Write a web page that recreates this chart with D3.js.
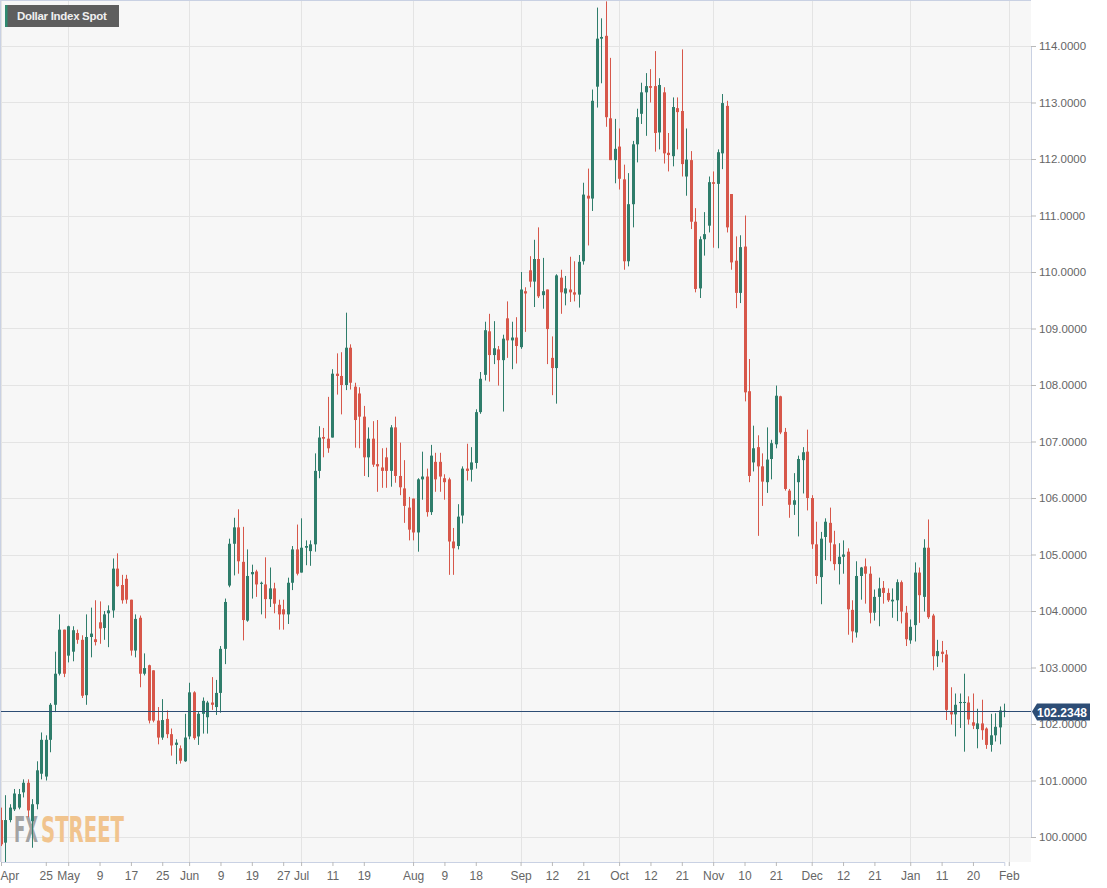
<!DOCTYPE html>
<html>
<head>
<meta charset="utf-8">
<script src="https://cdnjs.cloudflare.com/ajax/libs/d3/7.8.5/d3.min.js"></script>
<style>
body { margin: 0; background: #ffffff; }
svg { display: block; font-family: "Liberation Sans", Arial, sans-serif; }
</style>
</head>
<body>
<script>
// daily candles, Apr 2022 -> end of Jan 2023
var opens = [
 100.30, 99.90, 100.30, 100.49, 100.52, 100.79, 100.96, 100.28, 100.58, 101.12,
 101.07, 101.72, 102.34, 102.89, 103.67, 103.21, 103.28, 103.61, 103.49, 102.51,
 103.54, 103.50, 103.80, 103.70, 103.96, 104.01, 104.75, 104.46, 104.57, 104.20,
 103.30, 103.88, 102.89, 103.04, 102.95, 102.06, 101.76, 102.09, 101.82, 101.63,
 101.57, 101.34, 101.78, 102.56, 101.78, 102.18, 102.12, 102.38, 102.30, 102.55,
 103.33, 104.45, 105.19, 105.48, 104.87, 103.83, 104.65, 104.70, 104.48, 104.47,
 104.21, 104.40, 104.11, 104.03, 103.94, 104.50, 105.09, 104.68, 105.12, 105.06,
 105.18, 106.48, 107.08, 107.05, 107.07, 108.20, 108.16, 108.00, 108.66, 107.97,
 107.85, 107.44, 106.72, 107.05, 106.60, 106.54, 106.72, 106.48, 107.25, 106.39,
 106.17, 105.83, 105.99, 105.39, 106.33, 106.38, 105.75, 106.64, 106.64, 106.35,
 106.33, 105.23, 105.15, 105.69, 106.52, 106.50, 106.62, 107.52, 108.18, 108.95,
 108.53, 108.63, 108.44, 109.18, 108.79, 108.84, 108.67, 109.66, 110.03, 109.83,
 110.23, 109.59, 109.69, 108.48, 108.30, 109.90, 109.62, 109.69, 109.64, 109.60,
 110.19, 111.35, 111.30, 113.28, 114.13, 114.18, 112.72, 111.98, 112.22, 111.64,
 110.19, 111.20, 112.26, 112.80, 113.18, 113.29, 113.29, 112.47, 113.18, 112.11,
 112.05, 112.90, 112.85, 111.69, 111.98, 110.89, 109.71, 110.58, 110.82, 111.59,
 111.56, 112.10, 112.94, 111.38, 110.20, 109.63, 110.45, 107.89, 106.63, 106.90,
 106.56, 106.28, 106.69, 106.95, 107.80, 107.17, 106.13, 105.88, 106.28, 106.67,
 106.82, 106.00, 105.18, 104.60, 105.31, 105.56, 105.18, 104.83, 104.96, 105.05,
 104.02, 103.62, 104.62, 104.79, 104.66, 103.97, 104.25, 104.41, 104.32, 104.17,
 104.19, 104.51, 103.97, 103.48, 103.75, 104.68, 104.25, 105.12, 103.92, 103.20,
 103.28, 103.23, 102.21, 102.17, 102.37, 102.38, 102.38, 102.03, 101.91, 102.01,
 101.92, 101.63, 101.80, 101.94, 102.22
];
var highs = [
 100.52, 100.74, 100.58, 100.85, 100.85, 101.02, 101.02, 100.67, 101.34, 101.85,
 101.80, 102.37, 103.28, 103.94, 103.67, 103.74, 103.73, 103.67, 103.57, 103.94,
 104.06, 104.19, 104.17, 104.00, 104.10, 104.93, 105.02, 104.64, 104.64, 104.20,
 103.94, 103.92, 103.25, 103.05, 102.95, 102.30, 102.44, 102.24, 101.92, 101.73,
 101.62, 102.18, 102.73, 102.58, 102.21, 102.47, 102.41, 102.83, 102.78, 103.38,
 104.22, 105.28, 105.65, 105.80, 105.49, 105.09, 104.82, 104.73, 104.52, 104.95,
 104.77, 104.50, 104.20, 104.20, 104.59, 105.15, 105.53, 105.64, 105.25, 105.25,
 106.79, 107.27, 107.24, 107.79, 108.28, 108.56, 108.58, 109.28, 108.72, 108.04,
 107.96, 107.63, 107.25, 107.36, 107.38, 106.88, 106.89, 107.29, 107.44, 106.98,
 106.67, 106.02, 105.99, 106.35, 106.82, 106.52, 106.94, 106.80, 106.80, 106.42,
 106.36, 105.47, 105.89, 106.56, 106.96, 106.90, 107.57, 108.23, 109.12, 109.26,
 109.13, 108.69, 108.89, 109.48, 109.12, 109.20, 110.00, 109.73, 110.28, 110.57,
 110.79, 110.25, 109.69, 108.86, 109.96, 110.04, 109.93, 110.27, 110.19, 110.30,
 111.58, 111.83, 113.23, 114.68, 114.49, 114.79, 113.79, 112.71, 112.54, 111.90,
 111.75, 112.32, 112.89, 113.35, 113.52, 113.59, 113.91, 113.43, 113.27, 112.46,
 113.09, 113.09, 113.94, 112.54, 112.14, 111.13, 110.63, 111.06, 111.69, 111.78,
 112.17, 113.15, 113.03, 111.38, 110.63, 110.65, 111.00, 108.46, 107.28, 107.11,
 106.79, 107.25, 107.03, 107.99, 107.81, 107.24, 106.16, 106.44, 106.75, 106.90,
 107.21, 106.05, 105.58, 105.40, 105.64, 105.83, 105.42, 105.20, 105.25, 105.11,
 104.19, 104.88, 104.78, 104.93, 104.79, 104.38, 104.59, 104.53, 104.40, 104.40,
 104.56, 104.54, 104.09, 103.85, 104.86, 104.77, 105.27, 105.62, 103.95, 103.49,
 103.47, 103.31, 102.65, 102.54, 102.54, 102.89, 102.49, 102.54, 102.27, 102.43,
 101.94, 102.18, 102.19, 102.31, 102.36
];
var lows = [
 99.84, 99.54, 100.26, 100.46, 100.49, 100.70, 100.35, 99.81, 100.49, 101.02,
 101.00, 101.50, 102.21, 102.86, 102.83, 103.09, 103.11, 103.42, 102.46, 102.34,
 103.18, 103.39, 103.42, 103.49, 103.36, 103.88, 104.43, 104.13, 104.13, 103.21,
 103.18, 102.65, 102.86, 102.01, 102.03, 101.64, 101.72, 101.75, 101.44, 101.29,
 101.30, 101.33, 101.73, 101.72, 101.63, 101.83, 101.83, 102.25, 102.16, 102.20,
 103.06, 104.42, 104.63, 104.66, 103.48, 103.81, 104.22, 104.25, 103.94, 103.87,
 104.07, 103.96, 103.67, 103.67, 103.77, 104.37, 104.63, 104.68, 104.81, 104.80,
 105.05, 106.35, 106.72, 106.80, 107.07, 107.83, 107.48, 107.91, 107.92, 106.89,
 106.88, 106.39, 106.37, 106.55, 106.11, 106.18, 106.18, 106.20, 106.27, 106.05,
 105.56, 105.25, 105.25, 105.05, 105.97, 105.67, 105.70, 106.11, 106.11, 105.97,
 104.64, 104.64, 105.09, 105.55, 106.31, 106.29, 106.52, 107.49, 108.08, 108.06,
 108.37, 107.99, 107.53, 108.48, 108.28, 108.38, 108.64, 108.94, 109.73, 109.38,
 109.54, 109.35, 108.37, 107.82, 107.67, 109.26, 109.41, 109.47, 109.48, 109.37,
 110.13, 110.47, 111.08, 112.91, 113.34, 112.57, 111.98, 111.57, 111.46, 110.04,
 110.10, 110.79, 111.94, 112.62, 112.41, 113.00, 112.13, 112.17, 111.92, 111.78,
 111.87, 112.17, 111.69, 111.35, 110.76, 109.64, 109.54, 110.29, 110.70, 110.43,
 110.42, 111.82, 110.70, 110.04, 109.36, 109.45, 107.71, 106.28, 106.47, 105.33,
 105.86, 106.09, 106.33, 106.88, 107.13, 106.13, 105.65, 105.70, 105.32, 106.08,
 105.78, 105.10, 104.48, 104.12, 104.90, 104.88, 104.72, 104.47, 104.66, 103.58,
 103.44, 103.53, 104.20, 104.13, 103.78, 103.83, 103.73, 104.13, 104.16, 103.88,
 103.82, 103.78, 103.38, 103.42, 103.46, 103.79, 103.99, 103.86, 102.95, 103.01,
 103.09, 102.07, 101.99, 101.78, 101.93, 101.51, 101.99, 101.91, 101.57, 101.72,
 101.56, 101.51, 101.69, 101.64, 102.12
];
var closes = [
 99.87, 100.30, 100.52, 100.77, 100.76, 100.96, 100.47, 100.58, 101.18, 101.72,
 101.72, 102.34, 102.89, 103.67, 102.89, 103.73, 103.66, 103.49, 102.50, 103.54,
 103.60, 103.45, 103.69, 103.94, 104.01, 104.75, 104.44, 104.19, 104.20, 103.30,
 103.86, 102.89, 102.99, 102.06, 102.06, 101.76, 102.07, 101.82, 101.62, 101.67,
 101.35, 101.76, 102.56, 101.75, 102.18, 102.41, 102.38, 102.34, 102.55, 103.33,
 104.16, 105.19, 105.48, 104.88, 103.84, 104.62, 104.69, 104.47, 104.50, 104.21,
 104.40, 104.13, 103.94, 103.94, 104.50, 105.09, 104.66, 105.12, 105.15, 105.18,
 106.48, 107.07, 107.05, 106.88, 108.20, 108.16, 108.00, 108.66, 108.04, 107.38,
 107.44, 106.72, 107.05, 106.59, 106.56, 106.48, 106.48, 107.25, 106.39, 106.19,
 105.86, 105.44, 105.39, 106.33, 106.38, 105.75, 106.75, 106.33, 106.38, 106.28,
 105.23, 105.11, 105.67, 106.52, 106.48, 106.63, 107.52, 108.11, 108.97, 108.53,
 108.65, 108.44, 108.82, 108.79, 108.84, 108.69, 109.69, 109.62, 109.83, 110.23,
 109.57, 109.66, 108.99, 108.30, 109.94, 109.64, 109.71, 109.64, 109.60, 110.18,
 111.37, 111.30, 113.03, 114.13, 114.16, 112.74, 111.98, 112.18, 111.65, 110.19,
 111.20, 112.26, 112.74, 113.18, 113.29, 113.26, 112.46, 113.31, 112.10, 112.07,
 112.92, 112.83, 111.91, 111.99, 110.89, 109.70, 110.58, 110.67, 111.59, 111.56,
 112.12, 112.99, 110.79, 110.17, 109.63, 110.44, 107.87, 106.39, 106.88, 106.56,
 106.29, 106.68, 106.97, 107.81, 107.16, 106.16, 105.88, 105.96, 106.69, 106.81,
 106.00, 105.18, 104.62, 105.28, 105.58, 105.21, 104.83, 104.96, 105.00, 104.03,
 103.64, 104.62, 104.77, 104.66, 103.97, 104.25, 104.40, 104.32, 104.19, 104.20,
 104.51, 103.99, 103.50, 103.72, 104.68, 104.28, 105.12, 103.89, 103.20, 103.29,
 103.24, 102.25, 102.17, 102.34, 102.39, 102.39, 102.08, 101.97, 102.01, 101.89,
 101.63, 101.80, 101.95, 102.24, 102.2348
];

// x axis: candle index of each tick and its label
var tickIdx = [0, 10, 15, 22, 29, 36, 42, 49, 56, 63, 67, 74, 81, 92, 99, 106, 116, 123, 130,
  138, 145, 152, 159, 166, 173, 181, 188, 195, 203, 210, 217, 225];
var tickLabels = ["Apr", "25", "May", "9", "17", "25", "Jun", "9", "19", "27", "Jul", "11", "19",
  "Aug", "9", "18", "Sep", "12", "21", "Oct", "12", "21", "Nov", "10", "21", "Dec", "12", "21",
  "Jan", "11", "20", "Feb"];
var monthIdx = [0, 15, 42, 67, 92, 116, 138, 159, 181, 203, 225];
var priceTicks = [100, 101, 102, 103, 104, 105, 106, 107, 108, 109, 110, 111, 112, 113, 114];
var lastPrice = 102.2348;

var w = 1107;
var h = 888;
var plotR = 1031;
var plotB = 862;
var upCol = "#2f7d6b";
var downCol = "#d7574a";

var svg = d3.select("body")
	.append("svg")
	.attr("width", w)
	.attr("height", h);

var x = d3.scaleLinear().domain([0, opens.length - 1]).range([1, 1004.3]);
var y = d3.scaleLinear().domain([100, 114]).range([837, 46]);

// plot background
svg.append("rect")
	.attr("x", 0).attr("y", 0)
	.attr("width", plotR).attr("height", plotB)
	.attr("fill", "#f7f7f7");

// grid
svg.selectAll(".hgrid")
	.data(priceTicks)
	.enter()
	.append("line")
	.attr("x1", 0).attr("x2", plotR)
	.attr("y1", function(d){ return Math.round(y(d)) + 0.5; })
	.attr("y2", function(d){ return Math.round(y(d)) + 0.5; })
	.attr("stroke", "#e4e4e4");

svg.selectAll(".vgrid")
	.data(monthIdx)
	.enter()
	.append("line")
	.attr("y1", 0).attr("y2", plotB)
	.attr("x1", function(d){ return Math.round(x(d)) + 0.5; })
	.attr("x2", function(d){ return Math.round(x(d)) + 0.5; })
	.attr("stroke", "#e4e4e4");

// watermark
function wmText(str, x0, len, fill){
	svg.append("text")
		.attr("x", x0).attr("y", 842)
		.attr("font-family", "'Liberation Sans Narrow', 'DejaVu Sans Condensed', sans-serif")
		.attr("font-weight", "bold")
		.attr("font-size", 36)
		.attr("textLength", len)
		.attr("lengthAdjust", "spacingAndGlyphs")
		.attr("fill", fill)
		.text(str);
}
wmText("FX", 14, 24, "#a3a3a3");
wmText("STREET", 41, 83, "#f1c48e");

// candles
var idx = d3.range(opens.length);
function col(i){ return closes[i] >= opens[i] ? upCol : downCol; }

svg.selectAll(".wick")
	.data(idx)
	.enter()
	.append("line")
	.attr("x1", function(i){ return Math.round(x(i)) + 0.5; })
	.attr("x2", function(i){ return Math.round(x(i)) + 0.5; })
	.attr("y1", function(i){ return y(highs[i]); })
	.attr("y2", function(i){ return y(lows[i]); })
	.attr("stroke", col)
	.attr("stroke-width", 1);

svg.selectAll(".body")
	.data(idx)
	.enter()
	.append("rect")
	.attr("x", function(i){ return Math.round(x(i)) - 1; })
	.attr("width", 3)
	.attr("y", function(i){ return y(Math.max(opens[i], closes[i])); })
	.attr("height", function(i){ return Math.max(1, Math.abs(y(opens[i]) - y(closes[i]))); })
	.attr("fill", col);

// last price line
svg.append("line")
	.attr("x1", 0).attr("x2", plotR)
	.attr("y1", Math.round(y(lastPrice)) + 0.5)
	.attr("y2", Math.round(y(lastPrice)) + 0.5)
	.attr("stroke", "#2d4d75")
	.attr("stroke-width", 1);

// axes
var yAxis = d3.axisRight(y)
	.tickValues(priceTicks)
	.tickSize(5)
	.tickPadding(3)
	.tickFormat(d3.format(".4f"));
var gy = svg.append("g")
	.attr("transform", "translate(" + plotR + ",0)")
	.call(yAxis);

var xAxis = d3.axisBottom(x)
	.tickValues(tickIdx)
	.tickSize(4)
	.tickPadding(5)
	.tickFormat(function(d, i){ return tickLabels[i]; });
var gx = svg.append("g")
	.attr("transform", "translate(0," + plotB + ")")
	.call(xAxis);

[gx, gy].forEach(function(g){
	g.select(".domain").attr("stroke", "#c9d1e3");
	g.selectAll(".tick line").attr("stroke", "#b9b9b9");
	g.selectAll(".tick text")
		.attr("fill", "#666")
		.attr("font-size", 12)
		.attr("font-family", "'Liberation Sans', Arial, sans-serif");
});
gy.selectAll(".tick text").attr("font-size", 11.5);
gx.selectAll(".tick text").filter(function(d){ return d === 0; }).attr("text-anchor", "start").attr("x", -1);

// plot frame (left/top)
svg.append("line").attr("x1", 0.5).attr("x2", 0.5).attr("y1", 0).attr("y2", plotB).attr("stroke", "#c9d1e3");
svg.append("line").attr("x1", 0).attr("x2", plotR).attr("y1", 0.5).attr("y2", 0.5).attr("stroke", "#c9d1e3");

// last price tag
var ly = Math.round(y(lastPrice)) + 0.5;
svg.append("path")
	.attr("d", "M" + (plotR + 1) + "," + ly + " L" + (plotR + 6) + "," + (ly - 8) + " L1090," + (ly - 8) +
		" L1090," + (ly + 9) + " L" + (plotR + 6) + "," + (ly + 9) + " Z")
	.attr("fill", "#2d4d75");
svg.append("text")
	.attr("x", 1062).attr("y", ly + 5)
	.attr("text-anchor", "middle")
	.attr("fill", "#ffffff")
	.attr("font-size", 12)
	.attr("font-weight", "bold")
	.text(lastPrice.toFixed(4));

// title box
svg.append("rect")
	.attr("x", 5).attr("y", 5)
	.attr("width", 114).attr("height", 22)
	.attr("fill", "#5e5e5e");
svg.append("rect")
	.attr("x", 5).attr("y", 5)
	.attr("width", 2.5).attr("height", 22)
	.attr("fill", "#2f8a70");
svg.append("text")
	.attr("x", 17).attr("y", 20)
	.attr("fill", "#f0f0f0")
	.attr("font-size", 11.5)
	.attr("font-weight", "bold")
	.attr("letter-spacing", -0.3)
	.text("Dollar Index Spot");
</script>
</body>
</html>
